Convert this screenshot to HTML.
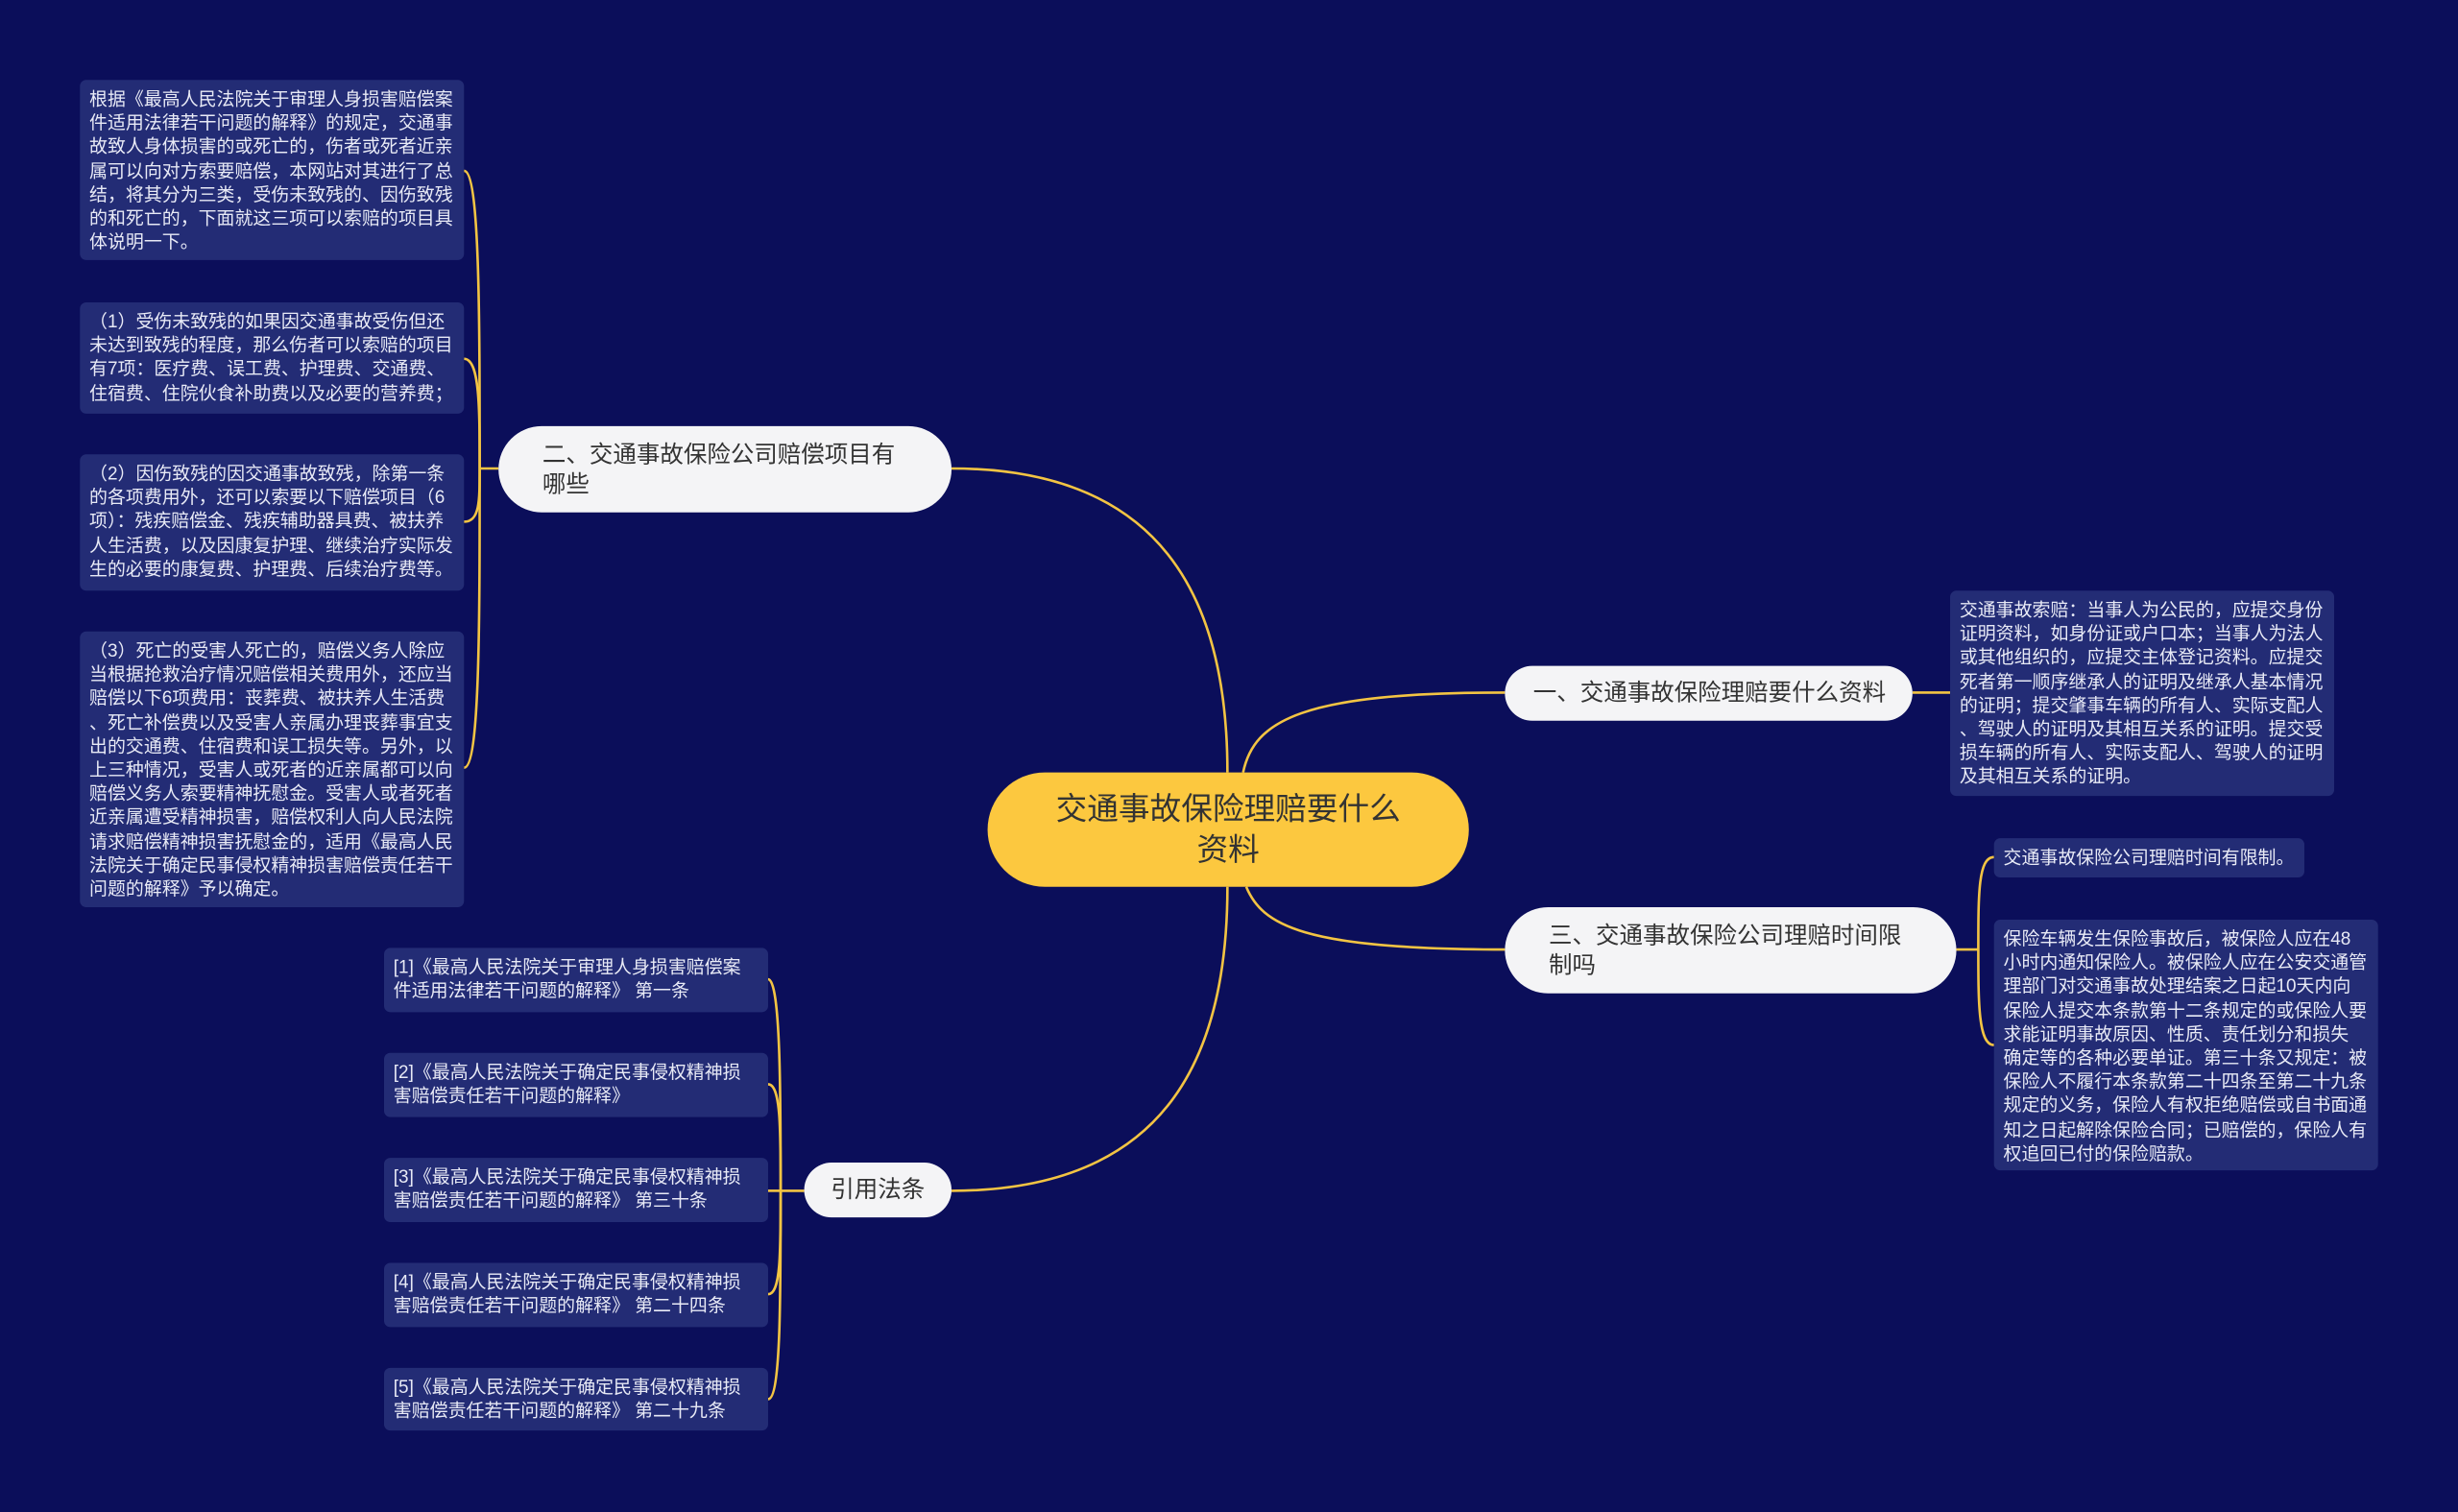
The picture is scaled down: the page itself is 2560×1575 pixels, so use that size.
<!DOCTYPE html>
<html><head><meta charset="utf-8"><style>
html,body{margin:0;padding:0;background:#0b0e5a;}
#root{position:absolute;left:0;top:0;width:1568px;height:965px;transform:scale(1.63265,1.6321);transform-origin:0 0;background:#0b0e5a;overflow:hidden;font-family:"Liberation Sans","Noto Sans CJK SC",sans-serif;}
.box{position:absolute;background:#232c75;border-radius:4px;color:#e8eaf6;font-size:11.6px;line-height:15.2px;padding:5px 6px;box-sizing:border-box;white-space:nowrap;}
.pill{position:absolute;background:#f4f4f6;color:#333;border-radius:28px;font-size:15px;line-height:19px;box-sizing:border-box;display:flex;align-items:center;}
svg{position:absolute;left:0;top:0;}
</style></head><body><div id="root">
<svg width="1568" height="965" viewBox="0 0 1568 965" fill="none" stroke="#f3c443" stroke-width="1.6">
<path d="M783 493 C783 380 740 299 607 299"/>
<path d="M793 493 C800 460 830 442 960 442"/>
<path d="M795 566 C805 590 830 606 960 606"/>
<path d="M783 566 C783 680 740 760 607 760"/>
<path d="M318 299 L306 299"/>
<path d="M306 299 C306 200 306 109 296 109"/>
<path d="M306 299 C306 260 306 229 296 229"/>
<path d="M306 299 C306 320 306 333 296 333"/>
<path d="M306 299 C306 400 306 490 296 490"/>
<path d="M513 760 L498 760"/>
<path d="M498 760 C498 700 498 625 490 625"/>
<path d="M498 760 C498 720 498 692 490 692"/>
<path d="M498 760 L490 760"/>
<path d="M498 760 C498 800 498 826 490 826"/>
<path d="M498 760 C498 830 498 893 490 893"/>
<path d="M1220 442 L1244 442"/>
<path d="M1248 606 L1262 606"/>
<path d="M1262 606 C1262 570 1262 547 1272 547"/>
<path d="M1262 606 C1262 640 1262 667 1272 667"/>
</svg>

<div class="pill" style="left:630px;top:493px;width:307px;height:73px;background:#fcc83f;color:#333;border-radius:37px;font-size:20px;line-height:26px;justify-content:center;text-align:center;">交通事故保险理赔要什么<br>资料</div>
<div class="pill" style="left:318px;top:272px;width:289px;height:55px;padding-left:28px;">二、交通事故保险公司赔偿项目有<br>哪些</div>
<div class="pill" style="left:960px;top:425px;width:260px;height:35px;padding-left:18px;">一、交通事故保险理赔要什么资料</div>
<div class="pill" style="left:960px;top:579px;width:288px;height:55px;padding-left:28px;">三、交通事故保险公司理赔时间限<br>制吗</div>
<div class="pill" style="left:513px;top:742px;width:94px;height:35px;justify-content:center;">引用法条</div>

<div class="box" style="left:51px;top:51px;width:245px;height:115px;">根据《最高人民法院关于审理人身损害赔偿案<br>件适用法律若干问题的解释》的规定，交通事<br>故致人身体损害的或死亡的，伤者或死者近亲<br>属可以向对方索要赔偿，本网站对其进行了总<br>结，将其分为三类，受伤未致残的、因伤致残<br>的和死亡的，下面就这三项可以索赔的项目具<br>体说明一下。</div>
<div class="box" style="left:51px;top:193px;width:245px;height:71px;">（1）受伤未致残的如果因交通事故受伤但还<br>未达到致残的程度，那么伤者可以索赔的项目<br>有7项：医疗费、误工费、护理费、交通费、<br>住宿费、住院伙食补助费以及必要的营养费；</div>
<div class="box" style="left:51px;top:290px;width:245px;height:87px;">（2）因伤致残的因交通事故致残，除第一条<br>的各项费用外，还可以索要以下赔偿项目（6<br>项）：残疾赔偿金、残疾辅助器具费、被扶养<br>人生活费，以及因康复护理、继续治疗实际发<br>生的必要的康复费、护理费、后续治疗费等。</div>
<div class="box" style="left:51px;top:403px;width:245px;height:176px;">（3）死亡的受害人死亡的，赔偿义务人除应<br>当根据抢救治疗情况赔偿相关费用外，还应当<br>赔偿以下6项费用：丧葬费、被扶养人生活费<br>、死亡补偿费以及受害人亲属办理丧葬事宜支<br>出的交通费、住宿费和误工损失等。另外，以<br>上三种情况，受害人或死者的近亲属都可以向<br>赔偿义务人索要精神抚慰金。受害人或者死者<br>近亲属遭受精神损害，赔偿权利人向人民法院<br>请求赔偿精神损害抚慰金的，适用《最高人民<br>法院关于确定民事侵权精神损害赔偿责任若干<br>问题的解释》予以确定。</div>

<div class="box" style="left:245px;top:605px;width:245px;height:41px;">[1]《最高人民法院关于审理人身损害赔偿案<br>件适用法律若干问题的解释》 第一条</div>
<div class="box" style="left:245px;top:672px;width:245px;height:41px;">[2]《最高人民法院关于确定民事侵权精神损<br>害赔偿责任若干问题的解释》</div>
<div class="box" style="left:245px;top:739px;width:245px;height:41px;">[3]《最高人民法院关于确定民事侵权精神损<br>害赔偿责任若干问题的解释》 第三十条</div>
<div class="box" style="left:245px;top:806px;width:245px;height:41px;">[4]《最高人民法院关于确定民事侵权精神损<br>害赔偿责任若干问题的解释》 第二十四条</div>
<div class="box" style="left:245px;top:873px;width:245px;height:40px;">[5]《最高人民法院关于确定民事侵权精神损<br>害赔偿责任若干问题的解释》 第二十九条</div>

<div class="box" style="left:1244px;top:377px;width:245px;height:131px;">交通事故索赔：当事人为公民的，应提交身份<br>证明资料，如身份证或户口本；当事人为法人<br>或其他组织的，应提交主体登记资料。应提交<br>死者第一顺序继承人的证明及继承人基本情况<br>的证明；提交肇事车辆的所有人、实际支配人<br>、驾驶人的证明及其相互关系的证明。提交受<br>损车辆的所有人、实际支配人、驾驶人的证明<br>及其相互关系的证明。</div>
<div class="box" style="left:1272px;top:535px;width:198px;height:25px;">交通事故保险公司理赔时间有限制。</div>
<div class="box" style="left:1272px;top:587px;width:245px;height:160px;">保险车辆发生保险事故后，被保险人应在48<br>小时内通知保险人。被保险人应在公安交通管<br>理部门对交通事故处理结案之日起10天内向<br>保险人提交本条款第十二条规定的或保险人要<br>求能证明事故原因、性质、责任划分和损失<br>确定等的各种必要单证。第三十条又规定：被<br>保险人不履行本条款第二十四条至第二十九条<br>规定的义务，保险人有权拒绝赔偿或自书面通<br>知之日起解除保险合同；已赔偿的，保险人有<br>权追回已付的保险赔款。</div>
</div></body></html>
